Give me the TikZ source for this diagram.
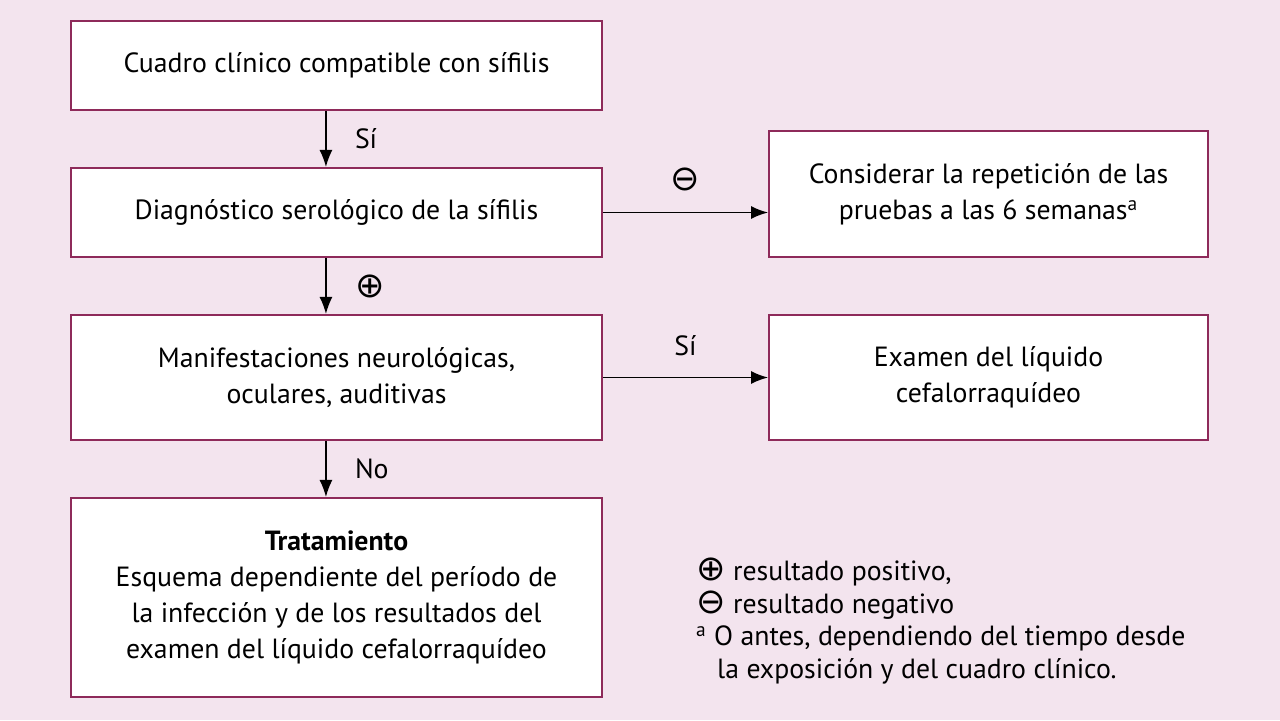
\documentclass[tikz,border=0pt]{standalone}
\usepackage{fontspec}
\setmainfont{PT Sans}
\newfontfamily\symfont{DejaVu Sans}
\usetikzlibrary{positioning,arrows.meta}
\definecolor{boxline}{HTML}{8E2A5A}
\definecolor{bgpink}{HTML}{F3E4EE}
\newcommand{\pos}{{\symfont\fontsize{20}{20}\selectfont ⊕}}
\newcommand{\nega}{{\symfont\fontsize{20}{20}\selectfont ⊖}}
\begin{document}
\begin{tikzpicture}[
    x=0.02cm, y=-0.02cm,
    font=\fontsize{15.8}{20.5}\selectfont,
    stage/.style={
        rectangle, draw=boxline, fill=white, line width=1.2pt,
        align=center, minimum width=10.62cm, inner sep=0pt
    },
    side/.style={stage, minimum width=8.78cm},
    flow/.style={-{Latex[length=0.34cm,width=0.26cm]}, line width=0.8pt, black}
]
    \fill[bgpink] (0,0) rectangle (1280,720);

    % --- Main column ---
    \node[stage, minimum height=1.78cm] (Clinic) at (336.5,65.5) {Cuadro clínico compatible con sífilis};
    \node[stage, minimum height=1.78cm] (Serology) at (336.5,212.5) {Diagnóstico serológico de la sífilis};
    \node[stage, minimum height=2.5cm] (Neuro) at (336.5,377.5) {Manifestaciones neurológicas,\\oculares, auditivas};
    \node[stage, minimum height=3.98cm] (Treatment) at (336.5,597.5)
        {\textbf{Tratamiento}\\Esquema dependiente del período de\\la infección y de los resultados del\\examen del líquido cefalorraquídeo};

    % --- Side boxes ---
    \node[side, minimum height=2.52cm] (Repeat) at (988.5,194) {Considerar la repetición de las\\pruebas a las 6 semanas\textsuperscript{a}};
    \node[side, minimum height=2.5cm] (CSF) at (988.5,377.5) {Examen del líquido\\cefalorraquídeo};

    % --- Arrow anchors ---
    \coordinate (c1) at ([xshift=5.12cm]Clinic.south west);
    \coordinate (c2) at ([xshift=5.12cm]Serology.south west);
    \coordinate (c3) at ([xshift=5.12cm]Neuro.south west);

    % --- Edges ---
    \draw[flow] (c1) -- (c1 |- Serology.north) node[midway, right=0.45cm] {Sí};
    \draw[flow] (c2) -- (c2 |- Neuro.north) node[midway, right=0.45cm] {\pos};
    \draw[flow] (c3) -- (c3 |- Treatment.north) node[midway, right=0.45cm] {No};
    \draw[flow] (Serology.east) -- (Serology.east -| Repeat.west) node[midway, above=0.3cm] {\nega};
    \draw[flow] (Neuro.east) -- (CSF.west) node[midway, above=0.3cm] {Sí};

    % --- Legend ---
    \node[anchor=north west, align=left, font=\fontsize{15.8}{18.5}\selectfont] (Legend) at (690,552)
        {\pos{} resultado positivo,\\\nega{} resultado negativo\\\textsuperscript{a} O antes, dependiendo del tiempo desde\\\hspace{0.42cm}la exposición y del cuadro clínico.};
\end{tikzpicture}
\end{document}
